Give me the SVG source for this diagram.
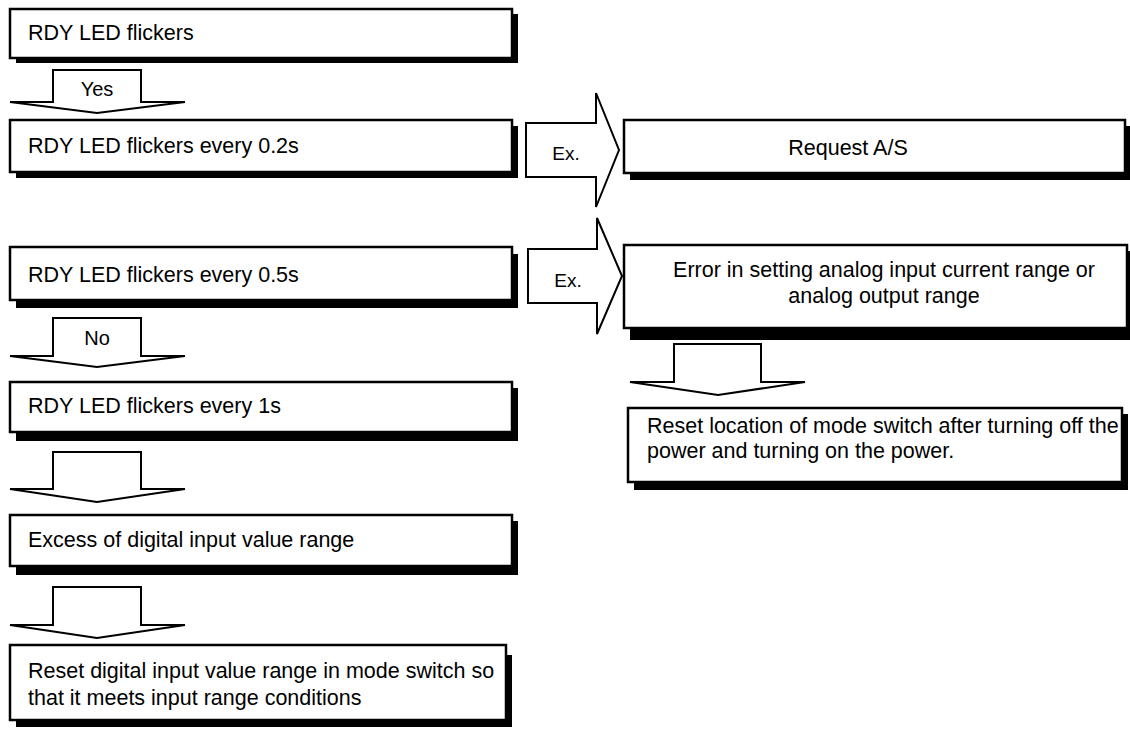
<svg xmlns="http://www.w3.org/2000/svg" width="1130" height="729" viewBox="0 0 1130 729">
<style>
.box{fill:#fff;stroke:#000;stroke-width:2.5}
.sh{fill:#000}
.arr{fill:#fff;stroke:#000;stroke-width:2;stroke-linejoin:miter}
text{font-family:"Liberation Sans",Arial,sans-serif;font-size:21.5px;fill:#000}
.lbl{font-size:20px;text-anchor:middle}
.ex{font-size:19px;text-anchor:middle}
.c{text-anchor:middle}
</style>
<rect width="1130" height="729" fill="#fff"/>
<g id="connectors">
<polygon class="arr" points="53,70 141,70 141,102 185,102 97,113 10,102 53,102"/>
<text class="lbl" x="97" y="96">Yes</text>
<polygon class="arr" points="53,318 141,318 141,356 185,356 97,367 10,356 53,356"/>
<text class="lbl" x="97" y="345">No</text>
<polygon class="arr" points="53,452 141,452 141,489 185,489 97,502 10,489 53,489"/>
<polygon class="arr" points="53,587 141,587 141,625 185,625 97,638 10,625 53,625"/>
<polygon class="arr" points="526,123 596,123 596,93 619,150 596,207 596,177 526,177"/>
<text class="ex" x="566" y="160">Ex.</text>
<polygon class="arr" points="528,249 597,249 597,218 622,276 597,334 597,303 528,303"/>
<text class="ex" x="568" y="287">Ex.</text>
<polygon class="arr" points="674,344 761,344 761,382 805,382 718,395 630,382 674,382"/>
</g>
<g id="n1">
<rect class="sh" x="16" y="14" width="502" height="49"/>
<rect class="box" x="10" y="9" width="502" height="49"/>
<text x="28" y="40">RDY LED flickers</text>
</g>
<g id="n2">
<rect class="sh" x="16" y="126" width="502" height="52"/>
<rect class="box" x="10" y="120" width="502" height="52"/>
<text x="28" y="153">RDY LED flickers every 0.2s</text>
</g>
<g id="n3">
<rect class="sh" x="16" y="254" width="502" height="54"/>
<rect class="box" x="10" y="247" width="502" height="53"/>
<text x="28" y="282">RDY LED flickers every 0.5s</text>
</g>
<g id="n4">
<rect class="sh" x="16" y="388" width="502" height="53"/>
<rect class="box" x="10" y="382" width="502" height="50"/>
<text x="28" y="413">RDY LED flickers every 1s</text>
</g>
<g id="n5">
<rect class="sh" x="16" y="521" width="502" height="54"/>
<rect class="box" x="10" y="515" width="502" height="51"/>
<text x="28" y="547">Excess of digital input value range</text>
</g>
<g id="n6">
<rect class="sh" x="16" y="655" width="496" height="72"/>
<rect class="box" x="10" y="645" width="496" height="75"/>
<text x="28" y="678">Reset digital input value range in mode switch so</text>
<text x="28" y="705">that it meets input range conditions</text>
</g>
<g id="n7">
<rect class="sh" x="630" y="126" width="500" height="54"/>
<rect class="box" x="624" y="120" width="501" height="53"/>
<text class="c" x="848" y="155">Request A/S</text>
</g>
<g id="n8">
<rect class="sh" x="630" y="251" width="500" height="89"/>
<rect class="box" x="624" y="245" width="503" height="83"/>
<text class="c" x="884" y="277">Error in setting analog input current range or</text>
<text class="c" x="884" y="303">analog output range</text>
</g>
<g id="n9">
<rect class="sh" x="634" y="414" width="494" height="76"/>
<rect class="box" x="628" y="408" width="494" height="74"/>
<text x="647" y="433">Reset location of mode switch after turning off the</text>
<text x="647" y="458">power and turning on the power.</text>
</g>
</svg>
